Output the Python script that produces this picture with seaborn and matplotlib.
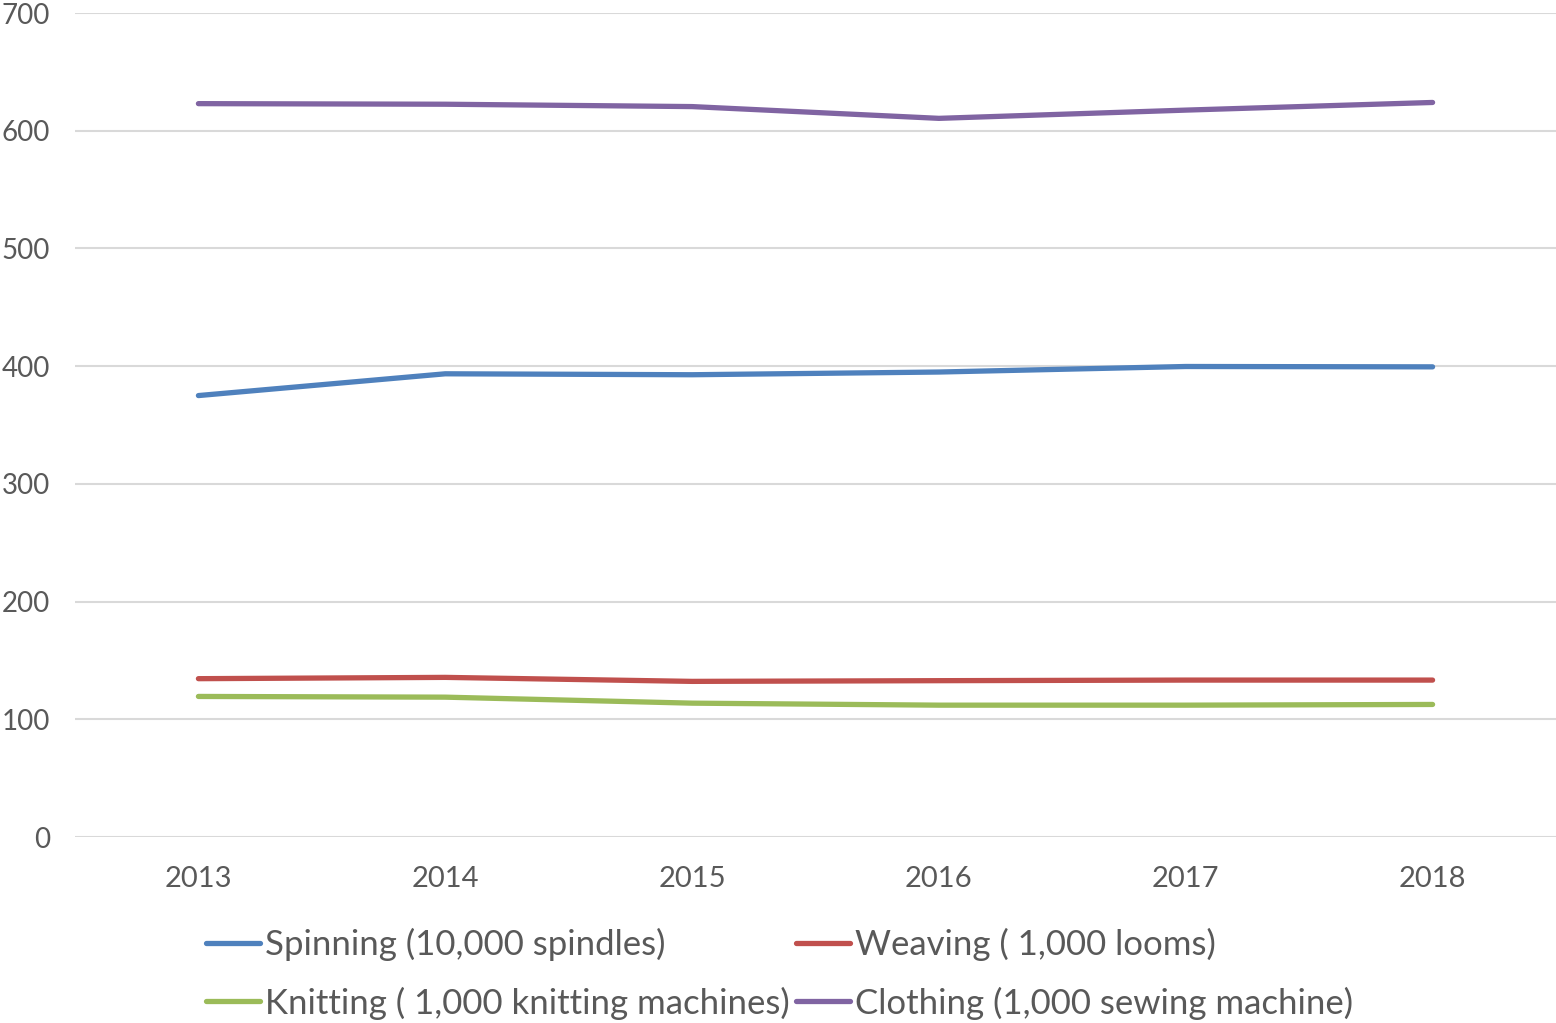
import matplotlib
matplotlib.use("Agg")
import matplotlib.pyplot as plt
from matplotlib.lines import Line2D
import seaborn as sns
import pandas as pd

# Textile production capacity by sector
years = [2013, 2014, 2015, 2016, 2017, 2018]
spinning = [375, 393.5, 392.7, 395, 399.7, 399.4]
weaving = [134.5, 135.6, 132.2, 132.8, 133.3, 133.3]
knitting = [119.4, 118.8, 113.7, 112, 112, 112.6]
clothing = [623, 622.5, 620.5, 610.5, 617.5, 624]

series_names = [
    "Spinning (10,000 spindles)",
    "Weaving ( 1,000 looms)",
    "Knitting ( 1,000 knitting machines)",
    "Clothing (1,000 sewing machine)",
]
series_values = [spinning, weaving, knitting, clothing]
colors = ["#4F81BD", "#C0504D", "#9BBB59", "#8064A2"]
y_ticks = [0, 100, 200, 300, 400, 500, 600, 700]

rows = []
for name, vals in zip(series_names, series_values):
    for y, v in zip(years, vals):
        rows.append({"Year": y, "Value": v, "Series": name})
df = pd.DataFrame(rows)

sns.set_theme(style="white")
plt.rcParams["font.family"] = ["Lato", "DejaVu Sans"]
text_color = "#595959"

fig = plt.figure(figsize=(15.56, 10.23), dpi=100)
ax = fig.add_axes([75 / 1556, 1 - 837 / 1023, 1 - 75 / 1556, (837 - 13) / 1023])

sns.lineplot(data=df, x="Year", y="Value", hue="Series", hue_order=series_names,
             palette=colors, linewidth=3.8, ax=ax, legend=False,
             solid_capstyle="round", solid_joinstyle="round")

ax.set_xlim(2012.5, 2018.5)
ax.set_ylim(0, 700)
ax.set_yticks(y_ticks)
ax.set_xticks(years)
ax.set_xticklabels([str(y) for y in years])
ax.yaxis.grid(True, color="#D9D9D9", linewidth=1.5)
ax.set_axisbelow(True)
for s in ax.spines.values():
    s.set_visible(False)
ax.tick_params(axis="both", length=0, labelcolor=text_color)
ax.tick_params(axis="x", labelsize=21, pad=21)
ax.tick_params(axis="y", labelsize=20, pad=18)
ax.set_xlabel("")
ax.set_ylabel("")

# Legend, two columns, filled column by column
handles = {n: Line2D([], [], color=c, linewidth=3.8, solid_capstyle="round")
           for n, c in zip(series_names, colors)}
order = [series_names[0], series_names[2], series_names[1], series_names[3]]
leg = fig.legend([handles[n] for n in order], order, loc="center",
                 bbox_to_anchor=(0.501, 0.0479), ncol=2, frameon=False,
                 fontsize=25, handlelength=1.55, handletextpad=0.14,
                 columnspacing=0.18, labelspacing=0.72, borderpad=0)
for t in leg.get_texts():
    t.set_color(text_color)

fig.savefig("out.png", dpi=100)
